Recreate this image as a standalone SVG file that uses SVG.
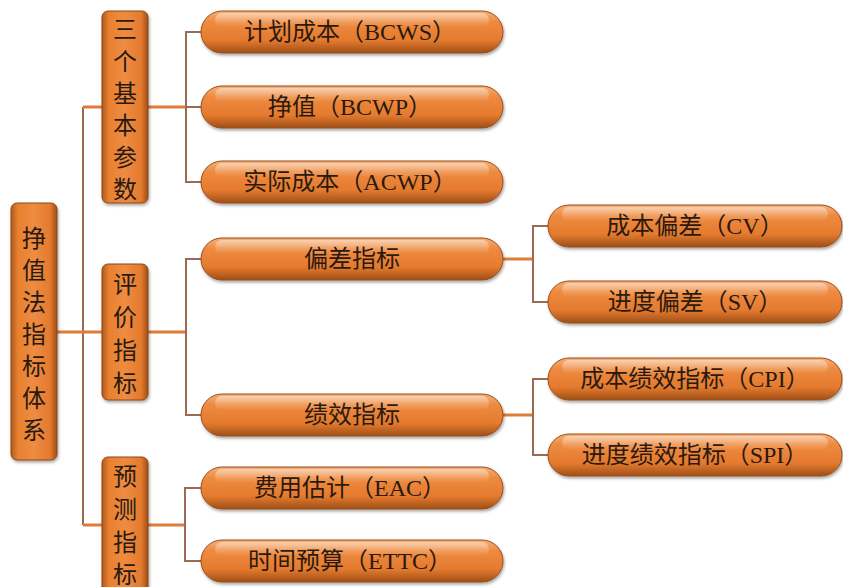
<svg xmlns="http://www.w3.org/2000/svg" width="843" height="587" viewBox="0 0 843 587">
<defs>
<linearGradient id="gp" x1="0" y1="0" x2="0" y2="1">
<stop offset="0" stop-color="#f6b07a"/>
<stop offset="0.25" stop-color="#ee8b40"/>
<stop offset="0.7" stop-color="#e47a2e"/>
<stop offset="1" stop-color="#9e4f18"/>
</linearGradient>
<linearGradient id="gb" x1="0" y1="0" x2="1" y2="0">
<stop offset="0" stop-color="#b0591c"/>
<stop offset="0.15" stop-color="#e8812f"/>
<stop offset="0.5" stop-color="#ee8c42"/>
<stop offset="0.85" stop-color="#e47a2e"/>
<stop offset="1" stop-color="#9e4f18"/>
</linearGradient>
<linearGradient id="hl" x1="0" y1="0" x2="0" y2="1">
<stop offset="0" stop-color="#ffffff" stop-opacity="0.45"/>
<stop offset="1" stop-color="#ffffff" stop-opacity="0"/>
</linearGradient>
<filter id="sh" x="-10%" y="-20%" width="120%" height="150%">
<feDropShadow dx="1" dy="2" stdDeviation="1.5" flood-color="#000" flood-opacity="0.35"/>
</filter>
</defs>
<style>
.pill{fill:url(#gp);stroke:#9a4e1a;stroke-width:1;filter:url(#sh)}
.box{fill:url(#gb);stroke:#8e4716;stroke-width:1;filter:url(#sh)}
.hl{fill:url(#hl)}
.t{font-family:"Liberation Serif","Noto Sans CJK SC",serif;font-size:24px;fill:#2a1a10;text-anchor:middle;dominant-baseline:central}
.v{font-family:"Noto Sans CJK SC","Liberation Serif",serif;font-size:24px;fill:#2a1a10;text-anchor:middle;dominant-baseline:central}
.br{fill:none;stroke:#9c6a52;stroke-width:2}
.st{fill:none;stroke:#e07b39;stroke-width:3}
</style>
<g id="connectors">
<path class="br" d="M83,107 V525"/>
<path class="st" d="M57,332 H102"/>
<path class="st" d="M83,107 H102"/>
<path class="st" d="M83,525 H102"/>
<path class="st" d="M148,107 H186"/>
<path class="br" d="M201,32 H186 V182 H201"/>
<path class="br" d="M186,107 H201"/>
<path class="st" d="M148,332 H186"/>
<path class="br" d="M201,259 H186 V415 H201"/>
<path class="st" d="M148,525 H185"/>
<path class="br" d="M201,488 H185 V561 H201"/>
<path class="st" d="M503,259 H533"/>
<path class="br" d="M548,226 H533 V302 H548"/>
<path class="st" d="M503,415 H533"/>
<path class="br" d="M548,379 H533 V455 H548"/>
</g>
<g id="root">
<rect class="box" x="11" y="203" width="46" height="257" rx="6"/>
<text class="v" x="34" y="236">挣</text>
<text class="v" x="34" y="268">值</text>
<text class="v" x="34" y="300">法</text>
<text class="v" x="34" y="332">指</text>
<text class="v" x="34" y="364">标</text>
<text class="v" x="34" y="396">体</text>
<text class="v" x="34" y="428">系</text>
</g>
<g id="basic">
<rect class="box" x="102" y="11" width="46" height="192" rx="6"/>
<text class="v" x="125" y="27">三</text>
<text class="v" x="125" y="59">个</text>
<text class="v" x="125" y="91">基</text>
<text class="v" x="125" y="123">本</text>
<text class="v" x="125" y="155">参</text>
<text class="v" x="125" y="187">数</text>
</g>
<g id="eval">
<rect class="box" x="102" y="264" width="46" height="136" rx="6"/>
<text class="v" x="125" y="282">评</text>
<text class="v" x="125" y="315">价</text>
<text class="v" x="125" y="348">指</text>
<text class="v" x="125" y="381">标</text>
</g>
<g id="forecast">
<rect class="box" x="102" y="457" width="46" height="140" rx="6"/>
<text class="v" x="125" y="474">预</text>
<text class="v" x="125" y="507">测</text>
<text class="v" x="125" y="540">指</text>
<text class="v" x="125" y="572">标</text>
</g>
<g id="bcws">
<rect class="pill" x="201" y="11" width="302" height="42" rx="21"/>
<rect class="hl" x="215" y="13" width="274" height="14" rx="7"/>
<text class="t" x="350" y="32">计划成本（BCWS）</text>
</g>
<g id="bcwp">
<rect class="pill" x="201" y="86" width="302" height="42" rx="21"/>
<rect class="hl" x="215" y="88" width="274" height="14" rx="7"/>
<text class="t" x="350" y="107">挣值（BCWP）</text>
</g>
<g id="acwp">
<rect class="pill" x="201" y="161" width="302" height="42" rx="21"/>
<rect class="hl" x="215" y="163" width="274" height="14" rx="7"/>
<text class="t" x="350" y="182">实际成本（ACWP）</text>
</g>
<g id="deviation">
<rect class="pill" x="201" y="238" width="302" height="42" rx="21"/>
<rect class="hl" x="215" y="240" width="274" height="14" rx="7"/>
<text class="t" x="352" y="259">偏差指标</text>
</g>
<g id="performance">
<rect class="pill" x="201" y="394" width="302" height="42" rx="21"/>
<rect class="hl" x="215" y="396" width="274" height="14" rx="7"/>
<text class="t" x="352" y="415">绩效指标</text>
</g>
<g id="eac">
<rect class="pill" x="201" y="467" width="302" height="42" rx="21"/>
<rect class="hl" x="215" y="469" width="274" height="14" rx="7"/>
<text class="t" x="350" y="488">费用估计（EAC）</text>
</g>
<g id="ettc">
<rect class="pill" x="201" y="540" width="302" height="42" rx="21"/>
<rect class="hl" x="215" y="542" width="274" height="14" rx="7"/>
<text class="t" x="350" y="561">时间预算（ETTC）</text>
</g>
<g id="cv">
<rect class="pill" x="548" y="205" width="294" height="42" rx="21"/>
<rect class="hl" x="562" y="207" width="266" height="14" rx="7"/>
<text class="t" x="695" y="226">成本偏差（CV）</text>
</g>
<g id="sv">
<rect class="pill" x="548" y="281" width="294" height="42" rx="21"/>
<rect class="hl" x="562" y="283" width="266" height="14" rx="7"/>
<text class="t" x="695" y="302">进度偏差（SV）</text>
</g>
<g id="cpi">
<rect class="pill" x="548" y="358" width="294" height="42" rx="21"/>
<rect class="hl" x="562" y="360" width="266" height="14" rx="7"/>
<text class="t" x="695" y="379">成本绩效指标（CPI）</text>
</g>
<g id="spi">
<rect class="pill" x="548" y="434" width="294" height="42" rx="21"/>
<rect class="hl" x="562" y="436" width="266" height="14" rx="7"/>
<text class="t" x="695" y="455">进度绩效指标（SPI）</text>
</g>
</svg>
